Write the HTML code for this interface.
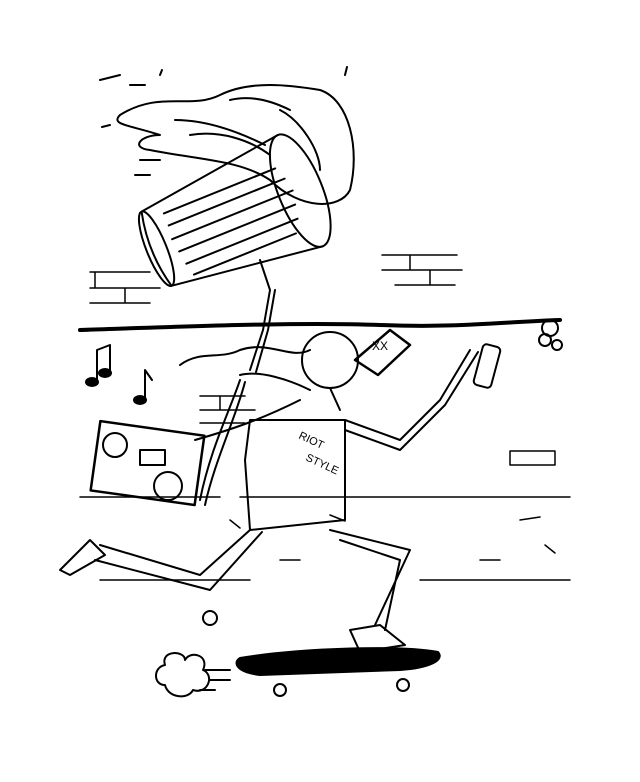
<!DOCTYPE html>
<html><head><style>html,body{margin:0;padding:0;background:#fff}svg{display:block}</style></head>
<body>
<svg width="640" height="782" viewBox="0 0 640 782" xmlns="http://www.w3.org/2000/svg" fill="none" stroke="#000" stroke-width="2" stroke-linecap="round" stroke-linejoin="round">
<rect width="640" height="782" fill="#fff" stroke="none"/>
<!-- wall bricks -->
<g stroke-width="1.5">
<path d="M90 272h60M90 288h70M90 303h60M95 272v16M125 288v15"/>
<path d="M382 255h75M382 270h80M395 285h60M410 255v15M430 270v15"/>
<path d="M200 396h45M200 410h55M200 423h45M220 396v14"/>
<path d="M510 451h45v14h-45z"/>
<path d="M80 497h140M240 497h330M100 580h150M420 580h150M280 560h20"/>
<path d="M230 520l10 8M330 515l15 6M520 520l20 -3M545 545l10 8M480 560l20 0"/>
</g>
<!-- thick wall line -->
<path d="M80 330 C200 326 300 322 380 325 S500 322 560 320" stroke-width="4"/>
<!-- flames -->
<path d="M120 115 C160 90 190 110 220 95 C250 80 290 85 320 90 C350 100 360 150 350 190 C340 210 300 210 270 180 C240 160 200 160 150 150 C130 148 140 135 160 135 C130 125 110 125 120 115z" stroke-width="2"/>
<path d="M175 120c30 0 60 10 90 25M190 135c30-5 60 5 80 20M280 110c20 10 40 40 40 60M230 100c20-5 40 0 60 10"/>
<path d="M100 80l20-5M140 160l20 0M135 175l15 0M130 85h15M160 75l2-5M345 75l2-8M110 125l-8 2"/>
<!-- trash can -->
<g transform="rotate(-22 240 215)">
<ellipse cx="305" cy="215" rx="22" ry="60"/>
<path d="M305 155 L150 175 Q140 215 150 255 L305 275"/>
<ellipse cx="150" cy="215" rx="10" ry="40"/>
<path d="M170 185h120M170 198h125M168 212h130M170 226h125M172 240h120M175 253h110"/>
</g>
<!-- skeleton arms/body -->
<path d="M260 260 L270 290 L263 330 L250 370 M275 290 L268 330 L256 372"/>
<path d="M240 375 C260 370 290 380 310 390"/>
<path d="M250 420 L245 460 L250 530 L345 520 L345 420 Z"/>
<path d="M240 380 C230 410 210 450 200 500 M245 382 C235 420 215 460 205 505"/>
<path d="M345 420 L400 440 L440 400 L470 350 M345 430 L400 450 L445 405 L478 352"/>
<!-- skull -->
<circle cx="330" cy="360" r="28"/>
<path d="M330 388 L340 410"/>
<!-- bottle -->
<path d="M355 360 L390 330 L410 345 L378 375 Z" stroke-width="2.5"/>
<text x="372" y="350" font-family="Liberation Sans" font-size="12" fill="#000" stroke="none">XX</text>
<!-- spray can -->
<rect x="478" y="345" width="18" height="42" rx="4" transform="rotate(15 487 366)"/>
<circle cx="550" cy="328" r="8"/><circle cx="545" cy="340" r="6"/><circle cx="557" cy="345" r="5"/>
<!-- snake -->
<path d="M180 365 C200 350 220 360 240 350 C270 340 290 360 310 350"/>
<!-- boombox -->
<rect x="95" y="428" width="105" height="70" transform="rotate(8 147 463)" stroke-width="2.5"/>
<circle cx="115" cy="445" r="12"/><circle cx="168" cy="486" r="14"/>
<path d="M140 450h25v15h-25z"/>
<path d="M195 440 C230 430 260 420 300 400"/>
<!-- legs -->
<path d="M250 530 L200 575 L100 545 M262 532 L210 590 L95 560"/>
<path d="M330 530 L410 550 L375 625 M340 540 L400 560 L385 630"/>
<path d="M60 570 L90 540 L105 555 L70 575 Z"/>
<path d="M350 630 L380 625 L405 645 L360 652 Z"/>
<!-- skateboard -->
<path d="M240 658 C300 648 400 645 438 652 C445 660 430 668 400 670 L260 675 C235 672 233 662 240 658Z" fill="#000"/>
<circle cx="280" cy="690" r="6"/><circle cx="403" cy="685" r="6"/>
<!-- dust cloud -->
<path d="M165 665 c-5-15 20-15 20-5 c5-10 25-5 18 10 c12 5 5 25-10 20 c-5 10-25 8-28-5 c-12 0-12-18 0-20z"/>
<path d="M205 670h25M210 680h20M200 690h15"/>
<circle cx="210" cy="618" r="7"/>
<!-- music notes -->
<g fill="#000" stroke-width="2">
<ellipse cx="92" cy="382" rx="6" ry="4"/><ellipse cx="105" cy="373" rx="6" ry="4"/>
<path d="M97 380V350L110 345V371" fill="none"/>
<ellipse cx="140" cy="400" rx="6" ry="4"/>
<path d="M145 398V370L152 380" fill="none"/>
</g>
<text x="298" y="438" font-family="Liberation Sans" font-size="11" fill="#000" stroke="none" transform="rotate(25 298 438)">RIOT</text>
<text x="305" y="460" font-family="Liberation Sans" font-size="11" fill="#000" stroke="none" transform="rotate(25 305 460)">STYLE</text>
</svg>
</body></html>
